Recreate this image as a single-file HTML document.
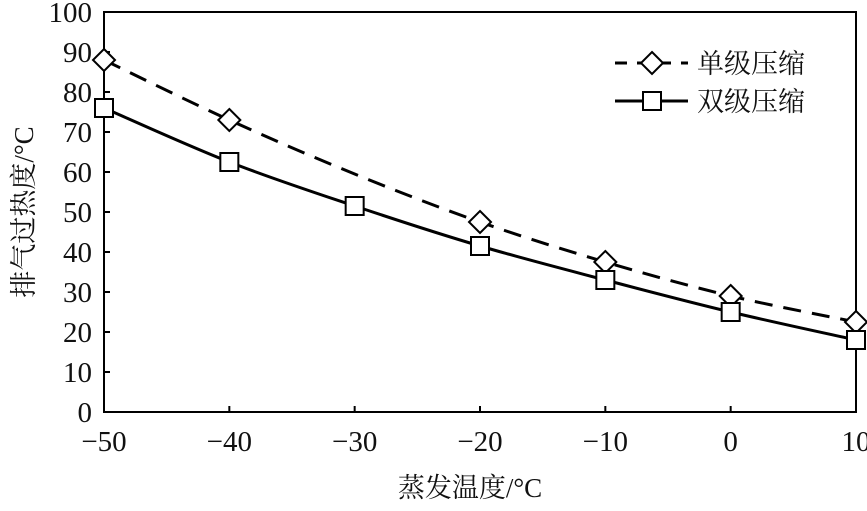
<!DOCTYPE html>
<html><head><meta charset="utf-8"><style>
html,body{margin:0;padding:0;background:#fff}
svg text{font-family:"Liberation Serif","Noto Serif CJK SC",serif;fill:#111}
</style></head><body>
<svg id="c" width="867" height="506" viewBox="0 0 867 506" xmlns="http://www.w3.org/2000/svg"></svg>
<script>
const xCats=[-50,-40,-30,-20,-10,0,10];
const singleVals=[88,73,59.5,47.5,37.5,29,22.5];
const singleMarker=[1,1,0,1,1,1,1];
const doubleVals=[76,62.5,51.5,41.5,33,25,18];
const yTicks=[0,10,20,30,40,50,60,70,80,90,100];
const xTickLabels=["\u221250","\u221240","\u221230","\u221220","\u221210","0","10"];
const L=104,R=856,T=12,B=412;
const sx=v=>L+(v+50)/60*(R-L);
const sy=v=>B-v/100*(B-T);
const svg=document.getElementById('c');
const NS='http://www.w3.org/2000/svg';
function mk(tag,attrs,parent){const e=document.createElementNS(NS,tag);for(const k in attrs)e.setAttribute(k,attrs[k]);(parent||svg).appendChild(e);return e;}
let e=mk('rect',{x:L,y:T,width:R-L,height:B-T,fill:'none',stroke:'#000','stroke-width':2});


yTicks.forEach(v=>{
 let t=mk('line',{x1:L,x2:L+6,y1:sy(v),y2:sy(v),stroke:'#000','stroke-width':2});
 
 
 let l=mk('text',{x:L-12,y:sy(v)+10,'text-anchor':'end','font-size':29});
 l.textContent=v;
 
 
});
xCats.forEach((v,i)=>{
 let t=mk('line',{x1:sx(v),x2:sx(v),y1:B,y2:B-6,stroke:'#000','stroke-width':2});
 
 
 let l=mk('text',{x:sx(v),y:B+39,'text-anchor':'middle','font-size':29});
 l.textContent=xTickLabels[i];
 
 
});
function curve(vals){
 const p=xCats.map((x,i)=>[sx(x),sy(vals[i])]);
 let d='M'+p[0][0]+','+p[0][1];
 for(let i=0;i<p.length-1;i++){
  const p0=p[Math.max(i-1,0)],p1=p[i],p2=p[i+1],p3=p[Math.min(i+2,p.length-1)];
  const c1=[p1[0]+(p2[0]-p0[0])/6,p1[1]+(p2[1]-p0[1])/6];
  const c2=[p2[0]-(p3[0]-p1[0])/6,p2[1]-(p3[1]-p1[1])/6];
  d+=' C'+c1+' '+c2+' '+p2;
 }
 return d;
}
e=mk('path',{d:curve(singleVals),fill:'none',stroke:'#000','stroke-width':3,'stroke-dasharray':'18,11'});


e=mk('path',{d:curve(doubleVals),fill:'none',stroke:'#000','stroke-width':3});


function diamond(x,y){return mk('polygon',{points:`${x},${y-11} ${x+11},${y} ${x},${y+11} ${x-11},${y}`,fill:'#fff',stroke:'#000','stroke-width':2});}
function square(x,y){return mk('rect',{x:x-9,y:y-9,width:18,height:18,fill:'#fff',stroke:'#000','stroke-width':2});}
xCats.forEach((x,i)=>{
 if(singleMarker[i]){let m=diamond(sx(x),sy(singleVals[i]));
 
 }
 let s=square(sx(x),sy(doubleVals[i]));
 
 
});
// legend
e=mk('line',{x1:615,x2:688,y1:63,y2:63,stroke:'#000','stroke-width':3,'stroke-dasharray':'12,10'});


e=diamond(652,63);


e=mk('text',{x:697,y:73,'font-size':27});e.textContent='单级压缩';


e=mk('line',{x1:615,x2:688,y1:101,y2:101,stroke:'#000','stroke-width':3});


e=square(652,101);


e=mk('text',{x:697,y:111,'font-size':27});e.textContent='双级压缩';


// axis titles
e=mk('text',{x:470,y:497,'text-anchor':'middle','font-size':27});e.textContent='蒸发温度/°C';


e=mk('text',{x:0,y:0,'text-anchor':'middle','font-size':27,transform:'translate(33,212) rotate(-90)'});e.textContent='排气过热度/°C';


</script>
</body></html>
